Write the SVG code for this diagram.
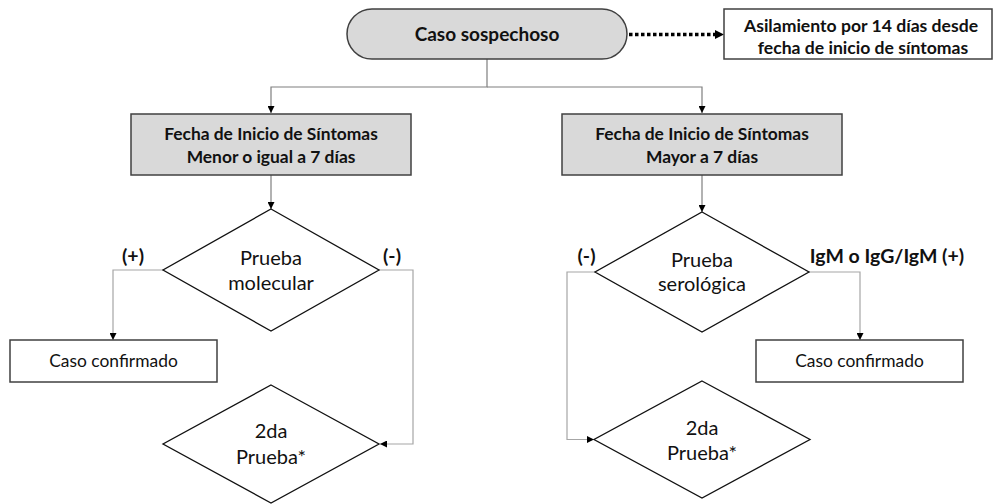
<svg xmlns="http://www.w3.org/2000/svg" width="994" height="504" viewBox="0 0 994 504">
<style>
  text { font-family: "Lato", "Open Sans", "Liberation Sans", sans-serif; fill: #111; text-anchor: middle; }
  .b { font-weight: bold; }
  .gbox { fill: #d9d9d9; stroke: #404040; stroke-width: 1.5; }
  .wbox { fill: #fff; stroke: #404040; stroke-width: 1.5; }
  .dia { fill: #fff; stroke: #111; stroke-width: 1.3; }
  .c1 { fill: none; stroke: #7f7f7f; stroke-width: 1.2; }
  .c2 { fill: none; stroke: #a6a6a6; stroke-width: 1.2; }
  .dot { fill: none; stroke: #000; stroke-width: 3.5; stroke-dasharray: 3.5 2.5; }
</style>
<defs>
  <marker id="ah" viewBox="0 0 10 10" refX="10" refY="5" markerWidth="7" markerHeight="7" markerUnits="userSpaceOnUse" orient="auto">
    <path d="M0,0 L10,5 L0,10 z" fill="#000"/>
  </marker>
  <marker id="ahb" viewBox="0 0 10 10" refX="10" refY="5" markerWidth="9" markerHeight="10" markerUnits="userSpaceOnUse" orient="auto">
    <path d="M0,0 L10,5 L0,10 z" fill="#000"/>
  </marker>
</defs>

<g id="connectors">
  <path class="dot" d="M629,34.5 H716"/>
  <path d="M716,34.5 H724" stroke="none" marker-end="url(#ahb)"/>
  <path class="c1" d="M487,59 V87 H271 V113" marker-end="url(#ah)"/>
  <path class="c1" d="M487,87 H702 V113" marker-end="url(#ah)"/>
  <path class="c1" d="M271,175 V209" marker-end="url(#ah)"/>
  <path class="c1" d="M702,175 V212" marker-end="url(#ah)"/>
  <path class="c2" d="M163,270 H113 V340" marker-end="url(#ah)"/>
  <path class="c2" d="M379,270 H413 V444 H380" marker-end="url(#ah)"/>
  <path class="c2" d="M595,272 H567 V439.5 H594" marker-end="url(#ah)"/>
  <path class="c2" d="M809,272 H860 V340" marker-end="url(#ah)"/>
</g>

<g id="caso-sospechoso">
  <rect class="gbox" x="347" y="9" width="280" height="50" rx="25" ry="25"/>
  <text class="b" x="487" y="41" font-size="19">Caso sospechoso</text>
</g>

<g id="aislamiento">
  <rect class="wbox" x="724" y="9" width="268" height="50"/>
  <text class="b" x="861" y="32" font-size="17.6">Asilamiento por 14 días desde</text>
  <text class="b" x="863" y="53.5" font-size="17.6">fecha de inicio de síntomas</text>
</g>

<g id="fecha-menor">
  <rect class="gbox" x="131" y="114" width="280" height="61"/>
  <text class="b" x="271" y="139.5" font-size="17.4">Fecha de Inicio de Síntomas</text>
  <text class="b" x="271" y="162.5" font-size="17.4">Menor o igual a 7 días</text>
</g>

<g id="fecha-mayor">
  <rect class="gbox" x="562" y="114" width="280" height="61"/>
  <text class="b" x="702" y="139.5" font-size="17.4">Fecha de Inicio de Síntomas</text>
  <text class="b" x="702" y="162.5" font-size="17.4">Mayor a 7 días</text>
</g>

<g id="prueba-molecular">
  <polygon class="dia" points="271,209 379,270 271,331 163,270"/>
  <text x="271" y="265" font-size="20">Prueba</text>
  <text x="271" y="290" font-size="20">molecular</text>
</g>

<g id="prueba-serologica">
  <polygon class="dia" points="702,212 809,272 702,332 595,272"/>
  <text x="702" y="266.5" font-size="20">Prueba</text>
  <text x="702" y="290.5" font-size="20">serológica</text>
</g>

<g id="caso-confirmado-izq">
  <rect class="wbox" x="10" y="340" width="207" height="42"/>
  <text x="113.5" y="367" font-size="17.4">Caso confirmado</text>
</g>

<g id="caso-confirmado-der">
  <rect class="wbox" x="756" y="340" width="207" height="42"/>
  <text x="859.5" y="367" font-size="17.4">Caso confirmado</text>
</g>

<g id="segunda-prueba-izq">
  <polygon class="dia" points="271,385 379,444 271,503 163,444"/>
  <text x="271" y="438" font-size="20">2da</text>
  <text x="271" y="464" font-size="20">Prueba*</text>
</g>

<g id="segunda-prueba-der">
  <polygon class="dia" points="702,381 810,439.5 702,498 594,439.5"/>
  <text x="702" y="435" font-size="20">2da</text>
  <text x="702" y="460" font-size="20">Prueba*</text>
</g>

<g id="labels">
  <text class="b" x="133" y="263" font-size="19.5">(+)</text>
  <text class="b" x="392" y="263" font-size="19.5">(-)</text>
  <text class="b" x="586.5" y="263" font-size="19.5">(-)</text>
  <text class="b" x="887" y="263" font-size="19.5">IgM o IgG/IgM (+)</text>
</g>
</svg>
